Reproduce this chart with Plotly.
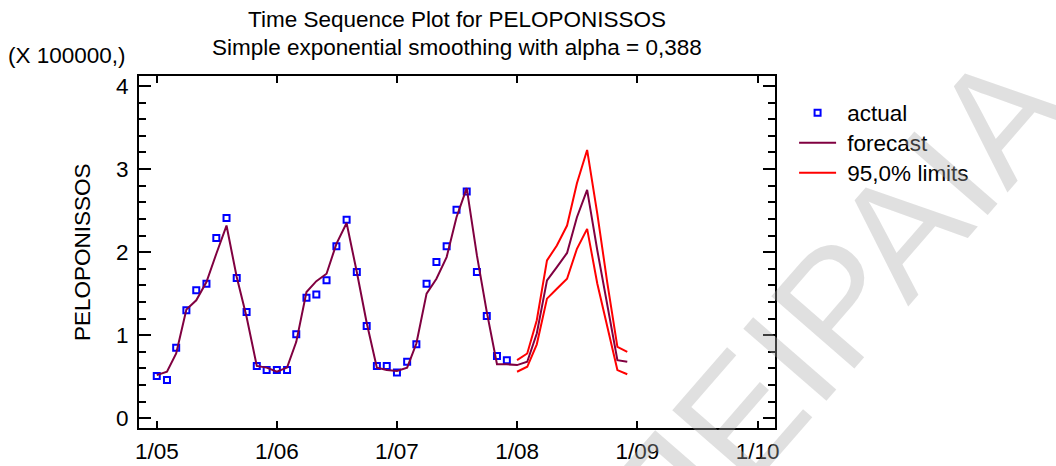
import plotly.graph_objects as go
import pandas as pd

# ---- data (values in units of 100000) ----
months_actual = pd.date_range("2005-01-01", periods=36, freq="MS").strftime("%Y-%m-%d").tolist()
months_forecast = pd.date_range("2005-01-01", periods=48, freq="MS").strftime("%Y-%m-%d").tolist()
months_limits = pd.date_range("2008-01-01", periods=12, freq="MS").strftime("%Y-%m-%d").tolist()

actual = [0.51, 0.46, 0.85, 1.30, 1.54, 1.62, 2.17, 2.41, 1.69, 1.28, 0.63, 0.58,
          0.58, 0.58, 1.01, 1.45, 1.49, 1.66, 2.07, 2.39, 1.76, 1.11, 0.63, 0.63,
          0.55, 0.68, 0.89, 1.62, 1.88, 2.07, 2.51, 2.73, 1.76, 1.23, 0.75, 0.70]

forecast = [0.52, 0.56, 0.78, 1.31, 1.42, 1.64, 1.98, 2.32, 1.70, 1.22, 0.63, 0.61,
            0.56, 0.61, 0.92, 1.52, 1.65, 1.74, 2.10, 2.35, 1.76, 1.15, 0.61, 0.58,
            0.57, 0.61, 0.90, 1.50, 1.68, 1.94, 2.42, 2.77, 1.96, 1.28, 0.65, 0.65,
            0.64, 0.68, 1.02, 1.66, 1.82, 1.99, 2.42, 2.75, 2.02, 1.38, 0.70, 0.68]

upper = [0.70, 0.78, 1.18, 1.90, 2.08, 2.32, 2.83, 3.23, 2.46, 1.64, 0.86, 0.80]
lower = [0.56, 0.62, 0.89, 1.44, 1.56, 1.68, 2.04, 2.28, 1.62, 1.10, 0.58, 0.53]

tick_vals = ["2005-01-01", "2006-01-01", "2007-01-01", "2008-01-01", "2009-01-01", "2010-01-01"]
tick_text = ["1/05", "1/06", "1/07", "1/08", "1/09", "1/10"]

FONT = "Arial, Liberation Sans, sans-serif"
FS = 22.5
MAROON = "#800040"
RED = "#ff0000"
NB = "\u00a0"

fig = go.Figure()
fig.add_trace(go.Scatter(x=months_actual, y=actual, mode="markers", name=NB + "actual",
                         legend="legend",
                         marker=dict(symbol="square-open", size=6, color="#0000ff",
                                     line=dict(width=2, color="#0000ff"))))
fig.add_trace(go.Scatter(x=months_forecast, y=forecast, mode="lines", name=NB + "forecast",
                         legend="legend2", line=dict(color=MAROON, width=2)))
fig.add_trace(go.Scatter(x=months_limits, y=upper, mode="lines", name=NB + "95,0% limits",
                         legend="legend3", line=dict(color=RED, width=2), legendgroup="lim"))
fig.add_trace(go.Scatter(x=months_limits, y=lower, mode="lines", name=NB + "95,0% limits",
                         legend="legend3", line=dict(color=RED, width=2), legendgroup="lim",
                         showlegend=False))

# plot area in window pixels: x 139..775, y 76..428
PLOT_H = 352


def leg(yc):
    return dict(x=1.03, y=(428 - yc) / PLOT_H, xanchor="left", yanchor="middle",
                font=dict(size=FS, family=FONT), itemwidth=37, bgcolor="rgba(0,0,0,0)")


fig.update_layout(
    width=1056, height=466,
    margin=dict(l=139, r=281, t=76, b=38, autoexpand=False),
    paper_bgcolor="white", plot_bgcolor="white",
    font=dict(family=FONT, size=FS, color="black"),
    showlegend=True,
    legend=leg(113), legend2=leg(143), legend3=leg(173),
    xaxis=dict(type="date", range=["2004-11-08", "2010-02-23"],
               tickvals=tick_vals, ticktext=tick_text, automargin=False,
               ticks="inside", ticklen=7, tickwidth=2, tickcolor="black",
               showline=True, linewidth=2, linecolor="black", mirror="ticks",
               showgrid=False, zeroline=False, tickfont=dict(size=FS),
               ticklabelstandoff=2),
    yaxis=dict(range=[-0.117, 4.12], tickvals=[0, 1, 2, 3, 4], automargin=False,
               ticks="inside", ticklen=12, tickwidth=2, tickcolor="black",
               minor=dict(dtick=0.2, ticks="inside", ticklen=7, tickwidth=2, tickcolor="black",
                          showgrid=False),
               showline=True, linewidth=2, linecolor="black", mirror="ticks",
               showgrid=False, zeroline=False, tickfont=dict(size=FS),
               ticklabelstandoff=4),
)

annotations = [
    dict(text="Time Sequence Plot for PELOPONISSOS", x=0.5, y=1 + (76 - 19) / PLOT_H,
         xref="paper", yref="paper", xanchor="center", yanchor="middle", showarrow=False,
         font=dict(size=FS, family=FONT)),
    dict(text="Simple exponential smoothing with alpha = 0,388", x=0.5, y=1 + (76 - 47) / PLOT_H,
         xref="paper", yref="paper", xanchor="center", yanchor="middle", showarrow=False,
         font=dict(size=FS, family=FONT)),
    dict(text="(X 100000,)", x=(128 - 139) / 636, y=1 + (76 - 55) / PLOT_H,
         xref="paper", yref="paper", xanchor="right", yanchor="middle", showarrow=False,
         font=dict(size=FS, family=FONT)),
    dict(text="PELOPONISSOS", x=(82 - 139) / 636, y=0.5, textangle=-90,
         xref="paper", yref="paper", xanchor="center", yanchor="middle", showarrow=False,
         font=dict(size=FS, family=FONT)),
    dict(text="ΠΕΙΡΑΙΑ", x=(832 - 139) / 636, y=(428 - 309) / PLOT_H, textangle=-49,
         xref="paper", yref="paper", xanchor="center", yanchor="middle", showarrow=False,
         font=dict(size=160, family=FONT, color="rgba(168,168,168,0.36)")),
]
fig.update_layout(annotations=annotations)

# remove the browser's default 8px body margin so the canvas sits at the window's corner
fig.write_html("out.html", config={"displayModeBar": False},
               post_script="document.body.style.margin='0';document.body.style.overflow='hidden';")
